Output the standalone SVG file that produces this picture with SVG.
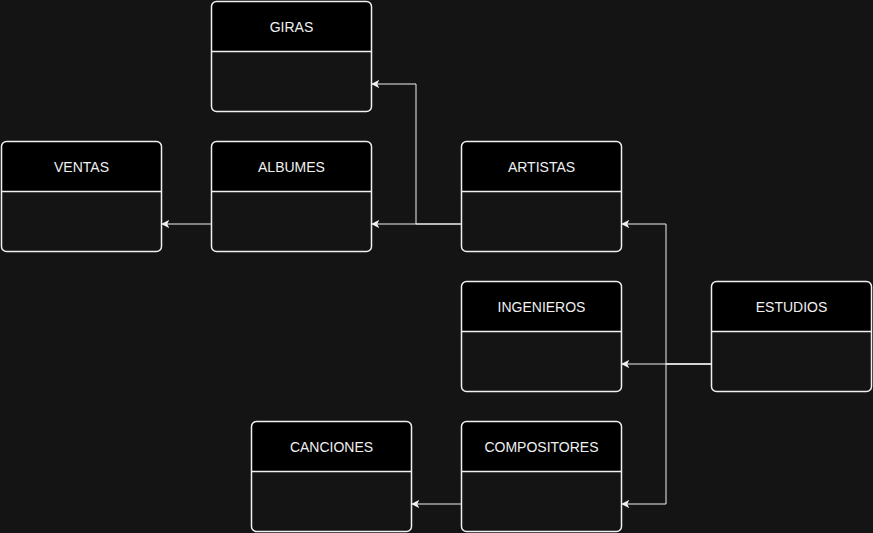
<svg xmlns="http://www.w3.org/2000/svg" width="873" height="533" viewBox="0 0 873 533">
<style>
.hdr{fill:#000000;stroke:none}
.box{fill:none;stroke:#f0f0f0;stroke-width:1.5}
.sep{stroke:#f0f0f0;stroke-width:1.5}
.lbl{font-family:"Liberation Sans",Arial,sans-serif;font-size:14px;fill:#f0f0f0;text-anchor:middle;dominant-baseline:central}
.edge{fill:none;stroke:#f0f0f0;stroke-width:1}
</style>
<defs>
<marker id="arr" viewBox="0 0 10 10" refX="9" refY="5" markerWidth="8" markerHeight="8" markerUnits="userSpaceOnUse" orient="auto">
<path d="M0,0 L10,5 L0,10 L2.5,5 Z" fill="#f0f0f0"/>
</marker>
<symbol id="n" overflow="visible">
<path class="hdr" d="M5,0 H155 A5,5 0 0 1 160,5 V50 H0 V5 A5,5 0 0 1 5,0 Z"/>
<rect class="box" x="0" y="0" width="160" height="110" rx="5"/>
<line class="sep" x1="0" y1="50" x2="160" y2="50"/>
</symbol>
</defs>
<rect width="873" height="533" fill="#141414"/>
<g id="connectors">
<path class="edge" d="M461,224 H416 V84 H372" marker-end="url(#arr)"/>
<path class="edge" d="M461,224 H372" marker-end="url(#arr)"/>
<path class="edge" d="M211,224 H162" marker-end="url(#arr)"/>
<path class="edge" d="M711,364 H666 V224 H622" marker-end="url(#arr)"/>
<path class="edge" d="M711,364 H622" marker-end="url(#arr)"/>
<path class="edge" d="M711,364 H666 V504 H622" marker-end="url(#arr)"/>
<path class="edge" d="M461,504 H412" marker-end="url(#arr)"/>
</g>
<g id="giras" transform="translate(211.5,1.5)"><use href="#n"/><text class="lbl" x="80" y="25">GIRAS</text></g>
<g id="ventas" transform="translate(1.5,141.5)"><use href="#n"/><text class="lbl" x="80" y="25">VENTAS</text></g>
<g id="albumes" transform="translate(211.5,141.5)"><use href="#n"/><text class="lbl" x="80" y="25">ALBUMES</text></g>
<g id="artistas" transform="translate(461.5,141.5)"><use href="#n"/><text class="lbl" x="80" y="25">ARTISTAS</text></g>
<g id="ingenieros" transform="translate(461.5,281.5)"><use href="#n"/><text class="lbl" x="80" y="25">INGENIEROS</text></g>
<g id="estudios" transform="translate(711.5,281.5)"><use href="#n"/><text class="lbl" x="80" y="25">ESTUDIOS</text></g>
<g id="canciones" transform="translate(251.5,421.5)"><use href="#n"/><text class="lbl" x="80" y="25">CANCIONES</text></g>
<g id="compositores" transform="translate(461.5,421.5)"><use href="#n"/><text class="lbl" x="80" y="25">COMPOSITORES</text></g>
</svg>
